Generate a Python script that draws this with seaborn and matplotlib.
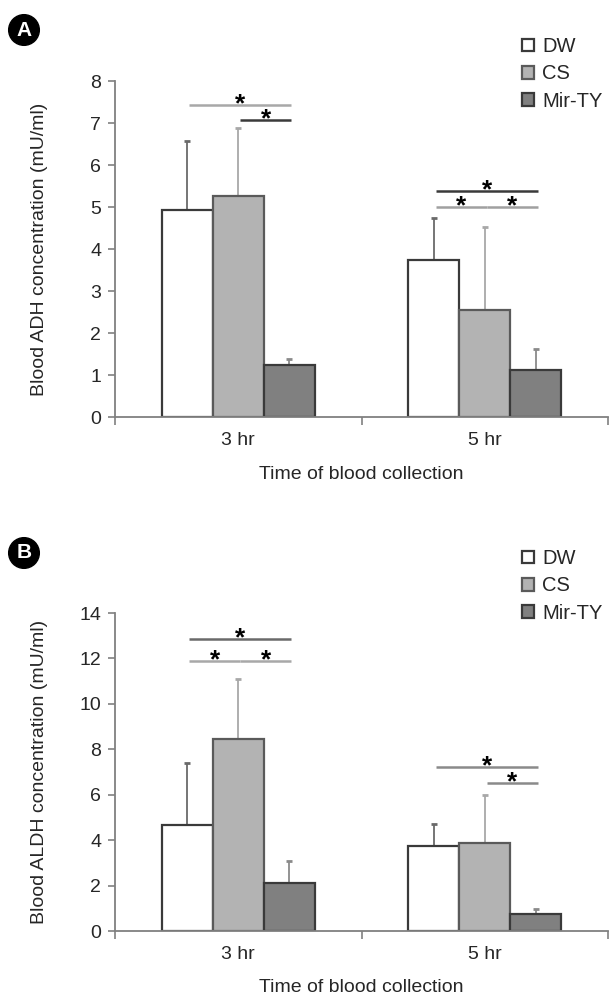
import numpy as np
import pandas as pd
import matplotlib
matplotlib.use('Agg')
import matplotlib.pyplot as plt
import matplotlib.patches as mpatches
import seaborn as sns

times = ['3 hr', '5 hr']
groups = ['DW', 'CS', 'Mir-TY']

# panel A: blood ADH (mU/ml), mean and SD per group, order = times
adh_dw = [4.94, 3.74]
adh_cs = [5.26, 2.54]
adh_mir = [1.25, 1.12]
adh_dw_sd = [1.64, 0.99]
adh_cs_sd = [1.63, 1.98]
adh_mir_sd = [0.12, 0.51]

# panel B: blood ALDH (mU/ml)
aldh_dw = [4.67, 3.76]
aldh_cs = [8.46, 3.89]
aldh_mir = [2.11, 0.76]
aldh_dw_sd = [2.74, 0.97]
aldh_cs_sd = [2.64, 2.10]
aldh_mir_sd = [0.99, 0.19]

# significance brackets: (time index, group from, group to, height)
adh_sig = [(0, 'DW', 'Mir-TY', 7.42), (0, 'CS', 'Mir-TY', 7.08),
           (1, 'DW', 'Mir-TY', 5.39), (1, 'DW', 'CS', 4.99), (1, 'CS', 'Mir-TY', 4.99)]
aldh_sig = [(0, 'DW', 'Mir-TY', 12.87), (0, 'DW', 'CS', 11.9), (0, 'CS', 'Mir-TY', 11.9),
            (1, 'DW', 'Mir-TY', 7.23), (1, 'CS', 'Mir-TY', 6.5)]

# style
fills = ['#ffffff', '#b3b3b3', '#808080']
edges = ['#3a3a3a', '#5a5a5a', '#3a3a3a']
err_colors = ['#6a6a6a', '#a8a8a8', '#8a8a8a']
adh_sig_colors = ['#a8a8a8', '#3a3a3a', '#3a3a3a', '#a0a0a0', '#a0a0a0']
aldh_sig_colors = ['#6a6a6a', '#a8a8a8', '#a8a8a8', '#8a8a8a', '#8a8a8a']

sns.set_style('white')
plt.rcParams['font.family'] = ['Liberation Sans', 'DejaVu Sans']


def make_df(means, sds):
    rows = []
    for g, m, s in zip(groups, means, sds):
        for t, mv, sv in zip(times, m, s):
            rows.append({'time': t, 'group': g, 'mean': mv, 'sd': sv})
    return pd.DataFrame(rows)


def draw_panel(ax, df, sig, sig_colors, ymax, ystep, ylabel):
    sns.barplot(data=df, x='time', y='mean', hue='group', hue_order=groups,
                palette=fills, width=0.62, errorbar=None, legend=False,
                linewidth=1.6, ax=ax, zorder=2)
    centers = {}
    for gi, (g, cont) in enumerate(zip(groups, ax.containers)):
        for bar in cont:
            bar.set_edgecolor(edges[gi])
        xs = [b.get_x() + b.get_width() / 2 for b in cont]
        sub = df[df['group'] == g]
        ax.errorbar(xs, sub['mean'], yerr=[np.zeros(len(xs)), sub['sd']],
                    fmt='none', ecolor=err_colors[gi], elinewidth=1.3,
                    capsize=2.5, capthick=2, zorder=1)
        for ti, x in enumerate(xs):
            centers[(ti, g)] = x
    for (ti, g1, g2, h), c in zip(sig, sig_colors):
        x0 = centers[(ti, g1)] + 0.008
        x1 = centers[(ti, g2)] + 0.008
        ax.plot([x0, x1], [h, h], color=c, lw=1.8, solid_capstyle='butt')
        ax.annotate('*', ((x0 + x1) / 2, h), xytext=(0, -4.5),
                    textcoords='offset points', ha='center', va='baseline',
                    fontsize=19, fontweight='bold', color='black')

    ax.set_xlim(-0.5, 1.5)
    ax.set_ylim(0, ymax)
    ax.set_yticks(np.arange(0, ymax + 0.01, ystep))
    ax.set_xticks([-0.5, 0.5, 1.5], minor=True)
    ax.tick_params(axis='x', which='major', length=0, pad=11, labelsize=14)
    ax.tick_params(axis='x', which='minor', length=6, width=1.2,
                   color='#808080', direction='out', bottom=True)
    ax.tick_params(axis='y', length=5, width=1.2, color='#808080',
                   direction='out', left=True, pad=5, labelsize=14)
    for side in ['top', 'right']:
        ax.spines[side].set_visible(False)
    for side in ['left', 'bottom']:
        ax.spines[side].set_color('#808080')
        ax.spines[side].set_linewidth(1.3)
    ax.set_ylabel(ylabel, fontsize=14)
    ax.set_xlabel('Time of blood collection', fontsize=14)


fig = plt.figure(figsize=(6.09, 9.99), dpi=100)
axA = fig.add_axes([115 / 609, (999 - 417) / 999, 493 / 609, 336 / 999])
axB = fig.add_axes([115 / 609, (999 - 931) / 999, 493 / 609, 318 / 999])

draw_panel(axA, make_df([adh_dw, adh_cs, adh_mir], [adh_dw_sd, adh_cs_sd, adh_mir_sd]),
           adh_sig, adh_sig_colors, 8, 1, 'Blood ADH concentration (mU/ml)')
draw_panel(axB, make_df([aldh_dw, aldh_cs, aldh_mir], [aldh_dw_sd, aldh_cs_sd, aldh_mir_sd]),
           aldh_sig, aldh_sig_colors, 14, 2, 'Blood ALDH concentration (mU/ml)')

axA.yaxis.set_label_coords(-(115 - 48) / 493, 0.5)
axB.yaxis.set_label_coords(-(115 - 48) / 493, 0.5)
axA.xaxis.set_label_coords(0.5, -(466 - 417) / 336)
axB.xaxis.set_label_coords(0.5, -(979 - 931) / 318)

handles = [mpatches.Patch(facecolor=f, edgecolor=e, linewidth=1.6, label=g)
           for f, e, g in zip(fills, edges, groups)]
for ax, top in [(axA, 37), (axB, 549)]:
    fig.legend(handles=handles, loc='upper left',
               bbox_to_anchor=(522 / 609, 1 - top / 999), frameon=False,
               fontsize=14.5, handlelength=0.6, handleheight=0.6,
               handletextpad=0.4, labelspacing=0.42, borderpad=0, borderaxespad=0)

for letter, (cx, cy) in [('A', (24, 30)), ('B', (24, 553))]:
    fig.text(cx / 609, 1 - cy / 999, letter, color='white', fontsize=15,
             fontweight='bold', ha='center', va='center',
             bbox=dict(boxstyle='circle,pad=0.28', fc='black', ec='black'))

fig.savefig('out.png', dpi=100)
